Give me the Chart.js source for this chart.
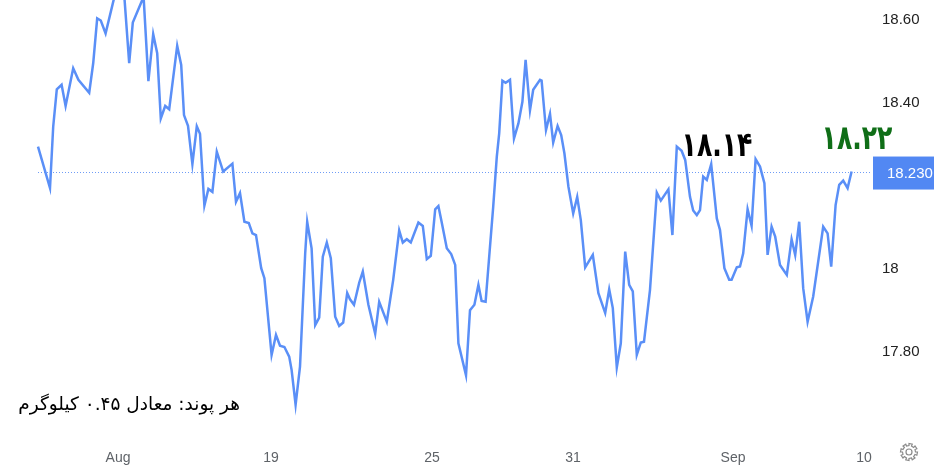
<!DOCTYPE html>
<html>
<head>
<meta charset="utf-8">
<script src="https://cdn.jsdelivr.net/npm/chart.js@4.4.1/dist/chart.umd.min.js"></script>
<style>
    html, body { margin: 0; padding: 0; background: #ffffff; }
    #wrap { width: 934px; height: 470px; position: relative; }
</style>
</head>
<body>
<div id="wrap"><canvas id="chart" width="934" height="470"></canvas></div>
<script>
// time position of each traced sample (session units) and the price at it
const times = [
    0, 3, 3.8, 4.7, 5.9, 6.9, 8.8, 10.1, 12.8, 13.8, 14.8, 15.7, 16.9, 19.5, 20.5, 21.5,
    22.8, 23.7, 26.4, 27.6, 28.8, 29.8, 30.7, 31.8, 32.8, 34.8, 35.8, 36.5, 37.5, 38.6,
    39.7, 40.5, 41.6, 42.6, 43.6, 44.7, 46.3, 48.6, 49.5, 50.5, 51.6, 52.7, 53.6, 54.5,
    55.8, 56.6, 58.4, 59.5, 60.5, 61.6, 62.8, 63.4, 64.4, 65.5, 66.8, 67.3, 68.4, 69.3,
    70.3, 71.2, 72.2, 73.2, 74.3, 75.3, 76.3, 77.3, 78, 79, 80.3, 81.2, 82.6, 84.3, 85.3,
    87.2, 88.8, 90.3, 91.2, 92.2, 93.2, 95.1, 96.2, 97.2, 98.2, 99.3, 100.1, 100.9, 102.2,
    103.3, 104.3, 105.1, 107, 108, 109.1, 110.1, 110.9, 111.9, 113, 113.8, 114.7, 115.3,
    116.1, 116.9, 118, 119, 120.1, 121.1, 121.9, 123, 123.8, 125.5, 125.9, 127, 128, 128.8,
    129.9, 130.8, 131.6, 132.6, 133.8, 134.8, 135.7, 136.8, 138.7, 140.1, 141.8, 142.8,
    143.7, 144.7, 145.7, 146.8, 147.8, 148.7, 149.7, 150.7, 151.5, 153, 154.7, 155.7,
    157.6, 158.6, 159.7, 160.9, 161.8, 163, 163.8, 164.7, 165.5, 166.3, 167.2, 168.3,
    169.7, 170.5, 171.6, 172.8, 173.4, 174.7, 175.5, 176.3, 177.4, 178.4, 179.4, 180.5,
    181.6, 182.4, 183.4, 184.3, 185.5, 187.2, 188.4, 189.3, 190.3, 191.3, 192.4, 193.8,
    196.3, 197.4, 198.3, 199.4, 200.3, 201.3, 202.4, 203.4
];
const prices = [
    18.290, 18.190, 18.338, 18.428, 18.439, 18.388, 18.479, 18.451, 18.420, 18.491, 18.599, 18.594, 18.563, 18.667, 18.655, 18.663,
    18.491, 18.589, 18.651, 18.448, 18.561, 18.515, 18.358, 18.388, 18.380, 18.533, 18.487, 18.366, 18.340, 18.248,
    18.339, 18.321, 18.148, 18.188, 18.181, 18.278, 18.230, 18.249, 18.157, 18.178, 18.109, 18.106, 18.081, 18.077,
    17.997, 17.973, 17.788, 17.836, 17.810, 17.807, 17.784, 17.752, 17.668, 17.760, 18.033, 18.109, 18.045, 17.860,
    17.878, 18.025, 18.059, 18.021, 17.880, 17.858, 17.866, 17.937, 17.922, 17.909, 17.962, 17.989, 17.909, 17.839, 17.916,
    17.868, 17.969, 18.088, 18.059, 18.067, 18.059, 18.107, 18.099, 18.019, 18.027, 18.139, 18.147, 18.109, 18.045,
    18.031, 18.005, 17.816, 17.739, 17.896, 17.909, 17.957, 17.918, 17.916, 18.049, 18.145, 18.266, 18.322,
    18.449, 18.444, 18.451, 18.310, 18.346, 18.398, 18.499, 18.378, 18.427, 18.451, 18.449, 18.330, 18.369, 18.300,
    18.340, 18.318, 18.274, 18.194, 18.129, 18.169, 18.113, 17.999, 18.029, 17.937, 17.889, 17.946,
    17.901, 17.758, 17.816, 18.037, 17.957, 17.941, 17.788, 17.818, 17.820, 17.945, 18.179, 18.160,
    18.187, 18.077, 18.290, 18.280, 18.258, 18.169, 18.136, 18.125, 18.137, 18.218, 18.210, 18.248,
    18.117, 18.089, 17.997, 17.969, 17.969, 17.999, 18.001, 18.033, 18.139, 18.099, 18.260, 18.242,
    18.202, 18.029, 18.097, 18.073, 18.005, 17.981, 18.067, 18.029, 18.109, 17.949, 17.868, 17.929,
    18.097, 18.081, 18.001, 18.149, 18.198, 18.208, 18.190, 18.230
];

const xTickPositions = [20, 58.25, 98.5, 133.75, 173.75, 206.5];
const xTickLabels = ['Aug', '19', '25', '31', 'Sep', '10'];

const yTickValues = [17.8, 18, 18.4, 18.6];
const yTickLabels = ['17.80', '18', '18.40', '18.60'];

const lastPrice = 18.23;
const lastPriceLabel = '18.230';
const noteHigh = '۱۸.۱۴';
const noteLast = '۱۸.۲۲';
const unitNote = 'هر پوند: معادل ۰.۴۵ کیلوگرم';

const LINE_COLOR = '#5a8ff7';
const BOX_COLOR = '#5288f3';

/**
 * Bold persian note, squeezed a little horizontally
 */
function drawNote(ctx, text, x, y, color) {
    ctx.save();
    ctx.translate(x, y);
    ctx.scale(0.82, 1);
    ctx.font = 'bold 34px "DejaVu Sans Condensed", "DejaVu Sans", sans-serif';
    ctx.textAlign = 'center';
    ctx.textBaseline = 'middle';
    ctx.fillStyle = color;
    ctx.fillText(text, 0, 0);
    ctx.restore();
}

/**
 * Draws the dotted last-price guide, the price tag, the notes and the gear
 */
const overlayPlugin = {
    id: 'overlay',
    beforeDatasetsDraw(chart) {
        const { ctx, chartArea, scales } = chart;
        const y = Math.round(scales.y.getPixelForValue(lastPrice)) + 0.5;
        const x0 = scales.x.getPixelForValue(times[0]);
        ctx.save();
        ctx.strokeStyle = '#6f9cf6';
        ctx.lineWidth = 1;
        ctx.setLineDash([1, 2]);
        ctx.beginPath();
        ctx.moveTo(x0, y);
        ctx.lineTo(chartArea.right, y);
        ctx.stroke();
        ctx.restore();
    },
    afterDraw(chart) {
        const { ctx, chartArea, scales } = chart;
        const y = scales.y.getPixelForValue(lastPrice);
        ctx.save();

        // price tag on the right axis
        ctx.fillStyle = BOX_COLOR;
        ctx.fillRect(chartArea.right + 1, y - 15, 62, 33);
        ctx.fillStyle = '#ffffff';
        ctx.font = '15px "Liberation Sans", Arial, sans-serif';
        ctx.textBaseline = 'middle';
        ctx.textAlign = 'left';
        ctx.fillText(lastPriceLabel, chartArea.right + 15, y + 2);

        // persian value notes
        drawNote(ctx, noteHigh, 717, 147, '#000000');
        drawNote(ctx, noteLast, 857, 140, '#0f6e17');

        // unit note bottom left
        ctx.font = '18.5px "DejaVu Sans", sans-serif';
        ctx.textAlign = 'right';
        ctx.textBaseline = 'middle';
        ctx.direction = 'rtl';
        ctx.fillStyle = '#000000';
        ctx.fillText(unitNote, 240, 405);

        // settings gear
        const cx = 909, cy = 452;
        ctx.strokeStyle = '#8a8a8a';
        ctx.lineWidth = 1.2;
        ctx.beginPath();
        const teeth = 8;
        for (let i = 0; i < teeth * 2; i++) {
            const a0 = (i / (teeth * 2)) * Math.PI * 2;
            const a1 = ((i + 1) / (teeth * 2)) * Math.PI * 2;
            const r = i % 2 === 0 ? 8.5 : 6.5;
            if (i === 0) ctx.moveTo(cx + r * Math.cos(a0), cy + r * Math.sin(a0));
            else ctx.lineTo(cx + r * Math.cos(a0), cy + r * Math.sin(a0));
            ctx.lineTo(cx + r * Math.cos(a1), cy + r * Math.sin(a1));
        }
        ctx.closePath();
        ctx.stroke();
        ctx.beginPath();
        ctx.arc(cx, cy, 3, 0, Math.PI * 2);
        ctx.stroke();

        ctx.restore();
    }
};

const ctx = document.getElementById('chart').getContext('2d');

new Chart(ctx, {
    type: 'line',
    data: {
        datasets: [{
            data: times.map((t, i) => ({ x: t, y: prices[i] })),
            borderColor: LINE_COLOR,
            borderWidth: 2.5,
            pointRadius: 0,
            tension: 0,
            fill: false
        }]
    },
    options: {
        responsive: false,
        animation: false,
        devicePixelRatio: 1,
        layout: { padding: 0 },
        plugins: {
            legend: { display: false },
            tooltip: { enabled: false }
        },
        scales: {
            x: {
                type: 'linear',
                min: -9.5,
                max: 208.5,
                grid: { display: false, drawTicks: false },
                border: { display: false },
                afterBuildTicks: scale => {
                    scale.ticks = xTickPositions.map(v => ({ value: v }));
                },
                afterFit: scale => {
                    scale.height = 30;
                    scale.paddingLeft = 0;
                    scale.paddingRight = 0;
                },
                ticks: {
                    autoSkip: false,
                    maxRotation: 0,
                    padding: 10,
                    color: '#5f6368',
                    font: { family: '"Liberation Sans", Arial, sans-serif', size: 14 },
                    callback: (value, index) => xTickLabels[index]
                }
            },
            y: {
                position: 'right',
                min: 17.583,
                max: 18.6434,
                grid: { display: false, drawTicks: false },
                border: { display: false },
                afterBuildTicks: scale => {
                    scale.ticks = yTickValues.map(v => ({ value: v }));
                },
                afterFit: scale => {
                    scale.width = 62;
                    scale.paddingTop = 0;
                    scale.paddingBottom = 0;
                },
                ticks: {
                    padding: 10,
                    labelOffset: 2,
                    color: '#222222',
                    font: { family: '"Liberation Sans", Arial, sans-serif', size: 15 },
                    callback: (value, index) => yTickLabels[index]
                }
            }
        }
    },
    plugins: [overlayPlugin]
});
</script>
</body>
</html>
